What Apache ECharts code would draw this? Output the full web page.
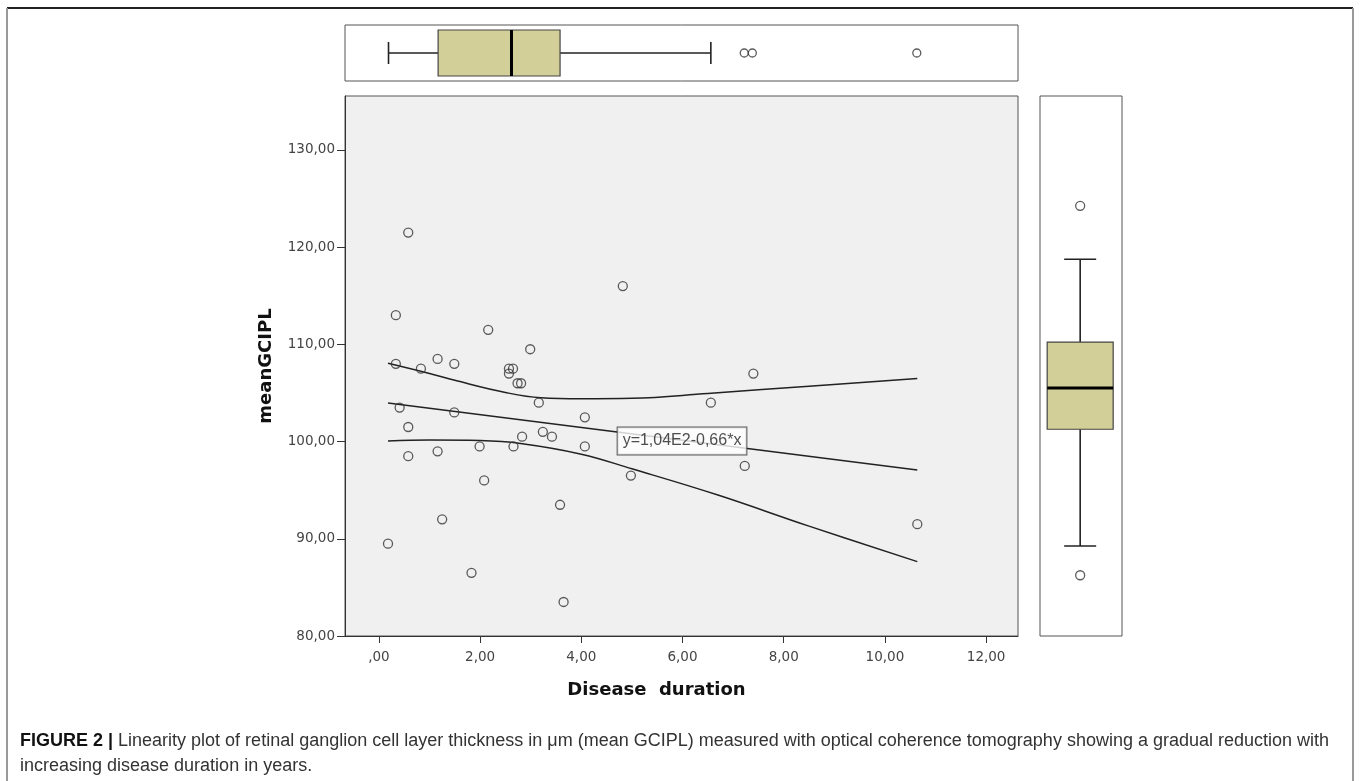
<!DOCTYPE html>
<html>
<head>
<meta charset="utf-8">
<script src="https://cdn.jsdelivr.net/npm/echarts@6/dist/echarts.min.js"></script>
<style>
html,body{margin:0;padding:0;background:#fff;}
#chart{width:1360px;height:781px;}
</style>
</head>
<body>
<div id="chart"></div>
<script>
// ---------- data ----------
const durationYears = [0.18,0.335,0.335,0.41,0.58,0.58,0.58,0.83,1.16,1.16,1.25,1.49,1.49,1.83,1.99,2.08,2.16,2.57,2.65,2.57,2.74,2.81,2.66,2.83,2.99,3.16,3.24,3.42,3.58,3.65,4.07,4.07,4.82,4.98,6.56,7.23,7.40,10.64];
const meanGCIPL     = [89.5,113.0,108.0,103.5,121.5,101.5,98.5,107.5,108.5,99.0,92.0,108.0,103.0,86.5,99.5,96.0,111.5,107.5,107.5,107.0,106.0,106.0,99.5,100.5,109.5,104.0,101.0,100.5,93.5,83.5,102.5,99.5,116.0,96.5,104.0,97.5,107.0,91.5];

const fitLine   = [[0.18,103.98],[10.64,97.08]];
const upperBand = [[0.18,108.05],[1.0,107.0],[1.5,106.3],[2.5,105.05],[3.2,104.5],[4.0,104.4],[5.0,104.45],[6.5,104.95],[8.5,105.7],[10.64,106.5]];
const lowerBand = [[0.18,100.05],[1.0,100.15],[2.0,100.1],[2.8,99.8],[4.0,98.7],[5.0,97.2],[6.7,94.5],[8.5,91.3],[10.64,87.65]];
const equationText = 'y=1,04E2-0,66*x';

// boxplot of duration: [lower whisker, Q1, median, Q3, upper whisker]
const durationBox = [0.19,1.17,2.62,3.58,6.56];
const durationOutliers = [7.22,7.38,10.63];
// boxplot of meanGCIPL
const gciplBox = [89.26,101.27,105.5,110.24,118.75];
const gciplOutliers = [124.25,86.25];

const xTicks = [0,2,4,6,8,10,12];
const yTicks = [80,90,100,110,120,130];
const xTitle = 'Disease  duration';
const yTitle = 'meanGCIPL';
const captionBold = 'FIGURE 2 |';
const captionLine1 = ' Linearity plot of retinal ganglion cell layer thickness in \u03bcm (mean GCIPL) measured with optical coherence tomography showing a gradual reduction with';
const captionLine2 = 'increasing disease duration in years.';

// ---------- layout / style ----------
const X_MIN = -0.67, X_MAX = 12.63, Y_MIN = 80, Y_MAX = 135.55;
const EQ_POS = [5.99, 100.06];
const BOX_FILL = '#D3CF98';
const fmt = v => { let s = v.toFixed(2).replace('.', ','); return s.startsWith('0') ? s.slice(1) : s; };

const chart = echarts.init(document.getElementById('chart'), null, {renderer:'canvas'});

function boxRenderer(horizontal, halfBox, halfCap) {
  return function (params, api) {
    const v = [0,1,2,3,4].map(i => api.value(i));
    const pts = v.map(val => horizontal ? api.coord([val, 0.5]) : api.coord([0.49, val]));
    const wStyle = {stroke:'#222', lineWidth:1.6};
    const children = [];
    if (horizontal) {
      const cy = pts[0][1];
      children.push({type:'line', shape:{x1:pts[0][0],y1:cy,x2:pts[1][0],y2:cy}, style:wStyle});
      children.push({type:'line', shape:{x1:pts[3][0],y1:cy,x2:pts[4][0],y2:cy}, style:wStyle});
      children.push({type:'line', shape:{x1:pts[0][0],y1:cy-halfCap,x2:pts[0][0],y2:cy+halfCap}, style:wStyle});
      children.push({type:'line', shape:{x1:pts[4][0],y1:cy-halfCap,x2:pts[4][0],y2:cy+halfCap}, style:wStyle});
      children.push({type:'rect', shape:{x:pts[1][0],y:cy-halfBox,width:pts[3][0]-pts[1][0],height:2*halfBox}, style:{fill:BOX_FILL, stroke:'#444', lineWidth:1.2}});
      children.push({type:'line', shape:{x1:pts[2][0],y1:cy-halfBox,x2:pts[2][0],y2:cy+halfBox}, style:{stroke:'#000', lineWidth:3}});
    } else {
      const cx = pts[0][0];
      children.push({type:'line', shape:{x1:cx,y1:pts[0][1],x2:cx,y2:pts[1][1]}, style:wStyle});
      children.push({type:'line', shape:{x1:cx,y1:pts[3][1],x2:cx,y2:pts[4][1]}, style:wStyle});
      children.push({type:'line', shape:{x1:cx-halfCap,y1:pts[0][1],x2:cx+halfCap,y2:pts[0][1]}, style:wStyle});
      children.push({type:'line', shape:{x1:cx-halfCap,y1:pts[4][1],x2:cx+halfCap,y2:pts[4][1]}, style:wStyle});
      children.push({type:'rect', shape:{x:cx-halfBox,y:pts[3][1],width:2*halfBox,height:pts[1][1]-pts[3][1]}, style:{fill:BOX_FILL, stroke:'#444', lineWidth:1.2}});
      children.push({type:'line', shape:{x1:cx-halfBox,y1:pts[2][1],x2:cx+halfBox,y2:pts[2][1]}, style:{stroke:'#000', lineWidth:3}});
    }
    return {type:'group', children};
  };
}

const labelFont = {color:'#444', fontSize:13.5, fontFamily:'DejaVu Sans'};
const hollow = {color:'rgba(0,0,0,0)', borderColor:'#333', borderWidth:1.3};

const option = {
  animation:false,
  backgroundColor:'#fff',
  grid:[
    {left:345, top:96, width:673, height:540, show:true, backgroundColor:'#F0F0F0', borderColor:'#555', borderWidth:1},
    {left:345, top:25, width:673, height:56, show:true, backgroundColor:'#fff', borderColor:'#555', borderWidth:1},
    {left:1040, top:96, width:82, height:540, show:true, backgroundColor:'#fff', borderColor:'#555', borderWidth:1}
  ],
  xAxis:[
    {gridIndex:0, type:'value', min:X_MIN, max:X_MAX,
     name:xTitle, nameLocation:'middle', nameGap:45,
     nameTextStyle:{fontFamily:'DejaVu Sans', fontWeight:'bold', fontSize:18, color:'#111', padding:[0,50,0,0]},
     axisLine:{show:true, onZero:false, lineStyle:{color:'#333', width:1}},
     axisTick:{show:true, length:7, customValues:xTicks, lineStyle:{color:'#333'}},
     axisLabel:Object.assign({customValues:xTicks, formatter:fmt, margin:14}, labelFont),
     splitLine:{show:false}},
    {gridIndex:1, type:'value', min:X_MIN, max:X_MAX, show:false},
    {gridIndex:2, type:'value', min:0, max:1, show:false}
  ],
  yAxis:[
    {gridIndex:0, type:'value', min:Y_MIN, max:Y_MAX,
     name:yTitle, nameLocation:'middle', nameGap:70, nameRotate:90,
     nameTextStyle:{fontFamily:'DejaVu Sans', fontWeight:'bold', fontSize:18, color:'#111'},
     axisLine:{show:true, onZero:false, lineStyle:{color:'#333', width:1}},
     axisTick:{show:true, length:8, customValues:yTicks, lineStyle:{color:'#333'}},
     axisLabel:Object.assign({customValues:yTicks, formatter:fmt, margin:10}, labelFont),
     splitLine:{show:false}},
    {gridIndex:1, type:'value', min:0, max:1, show:false},
    {gridIndex:2, type:'value', min:Y_MIN, max:Y_MAX, show:false}
  ],
  series:[
    {type:'line', xAxisIndex:0, yAxisIndex:0, data:upperBand, smooth:0.4, symbol:'none', lineStyle:{color:'#222', width:1.5}, z:3},
    {type:'line', xAxisIndex:0, yAxisIndex:0, data:lowerBand, smooth:0.4, symbol:'none', lineStyle:{color:'#222', width:1.5}, z:3},
    {type:'line', xAxisIndex:0, yAxisIndex:0, data:fitLine, symbol:'none', lineStyle:{color:'#222', width:1.5}, z:3},
    {type:'scatter', xAxisIndex:0, yAxisIndex:0, data:durationYears.map((x,i)=>[x, meanGCIPL[i]]),
     symbol:'circle', symbolSize:9, itemStyle:hollow, z:4},
    {type:'scatter', xAxisIndex:0, yAxisIndex:0, data:[EQ_POS], symbolSize:0, z:6, silent:true,
     label:{show:true, position:'inside', formatter:equationText, color:'#222', fontSize:16, fontFamily:'Liberation Sans',
            backgroundColor:'#fff', borderColor:'#333', borderWidth:1, padding:[6,5,5,5]}},
    {type:'custom', xAxisIndex:1, yAxisIndex:1, data:[durationBox], renderItem:boxRenderer(true, 23, 11), z:3},
    {type:'scatter', xAxisIndex:1, yAxisIndex:1, data:durationOutliers.map(x=>[x,0.5]), symbol:'circle', symbolSize:8, itemStyle:hollow, z:4},
    {type:'custom', xAxisIndex:2, yAxisIndex:2, data:[gciplBox], renderItem:boxRenderer(false, 33, 16), z:3},
    {type:'scatter', xAxisIndex:2, yAxisIndex:2, data:gciplOutliers.map(y=>[0.49,y]), symbol:'circle', symbolSize:9, itemStyle:hollow, z:4}
  ],
  graphic:[
    {type:'line', shape:{x1:7,y1:8,x2:1353,y2:8}, style:{stroke:'#222', lineWidth:2}},
    {type:'line', shape:{x1:7,y1:8,x2:7,y2:781}, style:{stroke:'#999', lineWidth:2}},
    {type:'line', shape:{x1:1353,y1:8,x2:1353,y2:781}, style:{stroke:'#999', lineWidth:2}},
    {type:'text', left:20, top:732, style:{
      text:'{b|' + captionBold + '}{n|' + captionLine1 + '}\n{n|' + captionLine2 + '}',
      rich:{
        b:{fontFamily:'Liberation Sans', fontWeight:'bold', fontSize:18, fill:'#111', lineHeight:25},
        n:{fontFamily:'Liberation Sans', fontSize:18, fill:'#333', lineHeight:25}
      }}}
  ]
};
chart.setOption(option);
</script>
</body>
</html>
